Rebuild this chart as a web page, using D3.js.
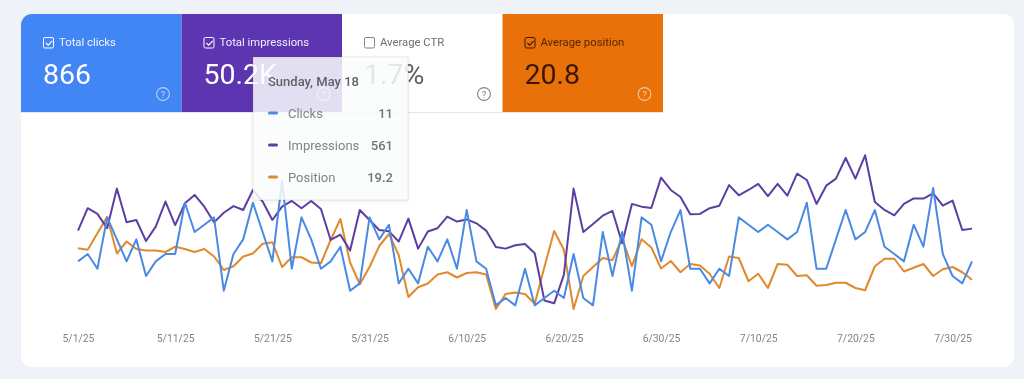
<!DOCTYPE html>
<html><head><meta charset="utf-8">
<script src="https://cdn.jsdelivr.net/npm/d3@7/dist/d3.min.js"></script>
<style>html,body{margin:0;padding:0;background:#eff3f8;overflow:hidden}svg{display:block;font-family:Roboto,sans-serif;filter:blur(.35px)}</style>
</head><body><svg id="c" width="1024" height="379"></svg>
<script>
const startDate = "2025-05-01";
const clicks = [8,9,7,14,11,8,11,6,8,9,9,16,12,13,14,4,9,11,16,12,8,19,7,14,11,7,8,10,4,5,14,11,13,5,7,5,10,8,11,7,15,8,7,2,3,2,7,2,3,4,3,9,3,2,12,6,12,4,14,13,8,12,15,7,7,5,7,6,14,13,12,13,12,11,12,16,7,7,11,15,11,12,15,10,9,8,13,10,18,9,6,5,8];
const impressions = [456,570,541,468,670,498,510,403,476,604,484,595,638,578,498,547,581,561,663,604,510,578,607,570,607,566,408,435,354,561,510,459,452,400,517,364,451,468,527,502,513,493,456,372,364,381,388,340,99,85,230,670,449,490,532,556,391,592,578,571,726,663,627,539,541,570,583,688,636,663,694,632,694,634,746,714,592,685,721,826,721,840,602,561,534,592,620,619,646,583,609,459,466];
const position = [18.1,18.3,16.1,13.9,18.8,17.2,18.2,18.4,18.4,18.6,17.9,18.2,18.6,18.2,19.2,21.0,20.5,19.2,18.8,17.5,17.3,20.6,19.3,19.3,20.0,20.1,17.0,14.2,20.0,22.9,20.6,17.8,16.2,19.0,24.6,23.3,22.8,21.6,21.3,22.0,21.4,21.3,21.6,26.2,24.2,24.0,24.2,25.5,20.6,15.8,18.3,26.2,21.8,20.6,19.4,19.7,16.8,20.5,16.9,18.0,20.8,19.8,21.3,20.2,20.4,21.5,23.4,19.2,19.4,22.5,21.5,23.4,20.2,20.3,21.8,21.7,23.1,23.0,22.7,22.7,23.4,23.7,20.5,19.5,19.5,21.2,20.7,20.2,21.8,20.9,20.6,21.3,22.3];
const tickLabels = ["5/1/25","5/11/25","5/21/25","5/31/25","6/10/25","6/20/25","6/30/25","7/10/25","7/20/25","7/30/25"];
const tileTitles = ["Total clicks","Total impressions","Average CTR","Average position"];
const tileValues = ["866","50.2K","1.7%","20.8"];
const tileFills = ["#4285f4","#5e35b1","#ffffff","#e8710a"];
const tileInk = ["#ffffff","#ffffff","#5f6368","#3a1602"];
const tileChecked = [true,true,false,true];
const tipDate = "Sunday, May 18";
const tipLabels = ["Clicks","Impressions","Position"];
const tipValues = ["11","561","19.2"];
const lineColors = ["#4a8ae3","#5b3fa3","#e08a2e"];

const svg = d3.select("#c");
svg.append("defs").append("clipPath").attr("id","cardClip").append("rect")
  .attr("x",21).attr("y",14).attr("width",993).attr("height",353).attr("rx",11);
svg.append("rect").attr("x",21).attr("y",14).attr("width",993).attr("height",353).attr("rx",11).attr("fill","#fff");

// tiles
const tileX = d3.scaleBand().domain(d3.range(4)).range([21,663]);
const tiles = svg.append("g").attr("clip-path","url(#cardClip)");
tiles.append("line").attr("x1",21).attr("x2",663).attr("y1",112.5).attr("y2",112.5).attr("stroke","#e4e6ea");
tileTitles.forEach((t,i)=>{
  const x0 = tileX(i), g = tiles.append("g").attr("transform",`translate(${x0},14)`);
  g.append("rect").attr("width",tileX.bandwidth()).attr("height",98).attr("fill",tileFills[i]);
  const ink = tileInk[i];
  g.append("rect").attr("x",22.5).attr("y",23.5).attr("width",10).attr("height",10.5).attr("rx",1.5)
    .attr("fill","none").attr("stroke",i==2?"#80868b":ink).attr("stroke-width",1);
  if(tileChecked[i]) g.append("path").attr("d","M25 29l2.2 2.2 4-4.4").attr("fill","none").attr("stroke",ink).attr("stroke-width",1.1);
  g.append("text").attr("x",38).attr("y",32).attr("font-size",11.3).attr("fill",ink).attr("opacity",i==3?.85:.92).text(t);
  g.append("text").attr("x",22).attr("y",70).attr("font-size",28.5).attr("fill",i==2?"#5f6368":ink).text(tileValues[i]);
  const hc = i==2?"#80868b":"rgba(255,255,255,.62)";
  g.append("circle").attr("cx",142).attr("cy",80).attr("r",6.4).attr("fill","none").attr("stroke",hc).attr("stroke-width",1.1);
  g.append("text").attr("x",142).attr("y",83.5).attr("text-anchor","middle").attr("font-size",9.5).attr("fill",hc).text("?");
});

// scales
const parse = d3.utcParse("%Y-%m-%d");
const dates = clicks.map((_,i)=>d3.utcDay.offset(parse(startDate),i));
const x = d3.scaleUtc().domain([dates[0],dates[dates.length-1]]).range([78,972]);
const yClicks = d3.scaleLinear().domain([0,25]).range([320,136.75]);
const yImpr = d3.scaleLinear().domain([0,1000]).range([320,123.9]);
const yPos = d3.scaleLinear().domain([1,28]).range([120,322.5]);

const series = [[position,yPos,2],[impressions,yImpr,1],[clicks,yClicks,0]];
series.forEach(([vals,sc,c])=>{
  const line = d3.line().x((d,i)=>x(dates[i])).y(d=>sc(d));
  svg.append("path").datum(vals).attr("d",line).attr("fill","none")
    .attr("stroke",lineColors[c]).attr("stroke-width",2).attr("stroke-linejoin","round");
});

// axis
const tickDates = tickLabels.map((_,i)=>d3.utcDay.offset(dates[0],i*10));
const axis = d3.axisBottom(x).tickValues(tickDates).tickFormat((d,i)=>tickLabels[i]).tickSize(0).tickPadding(0);
const ag = svg.append("g").attr("transform","translate(0,335)").call(axis);
ag.select(".domain").remove();
ag.selectAll("text").attr("font-family","Roboto,sans-serif").attr("font-size",10.4).attr("fill","#80848a");

// tooltip
const tip = svg.append("g").attr("transform","translate(253,57)");
tip.append("rect").attr("x",0).attr("y",0).attr("width",155).attr("height",143)
  .attr("fill","rgba(255,255,255,.84)").attr("stroke","rgba(60,64,67,.10)").attr("stroke-width",1)
  .style("filter","drop-shadow(0 1px 2px rgba(60,64,67,.12))");
tip.append("text").attr("x",15).attr("y",29).attr("font-size",13).attr("font-weight",500).attr("fill","#5f6368").text(tipDate);
tipLabels.forEach((l,i)=>{
  const cy = 55 + i*32 ;
  tip.append("rect").attr("x",15).attr("y",cy-.5).attr("width",10).attr("height",3).attr("rx",1.5).attr("fill",lineColors[i]);
  tip.append("text").attr("x",35).attr("y",cy+6).attr("font-size",13).attr("fill","#80848a").text(l);
  tip.append("text").attr("x",140).attr("y",cy+6).attr("text-anchor","end").attr("font-size",13).attr("font-weight",500).attr("fill","#70757a").text(tipValues[i]);
});
</script></body></html>
